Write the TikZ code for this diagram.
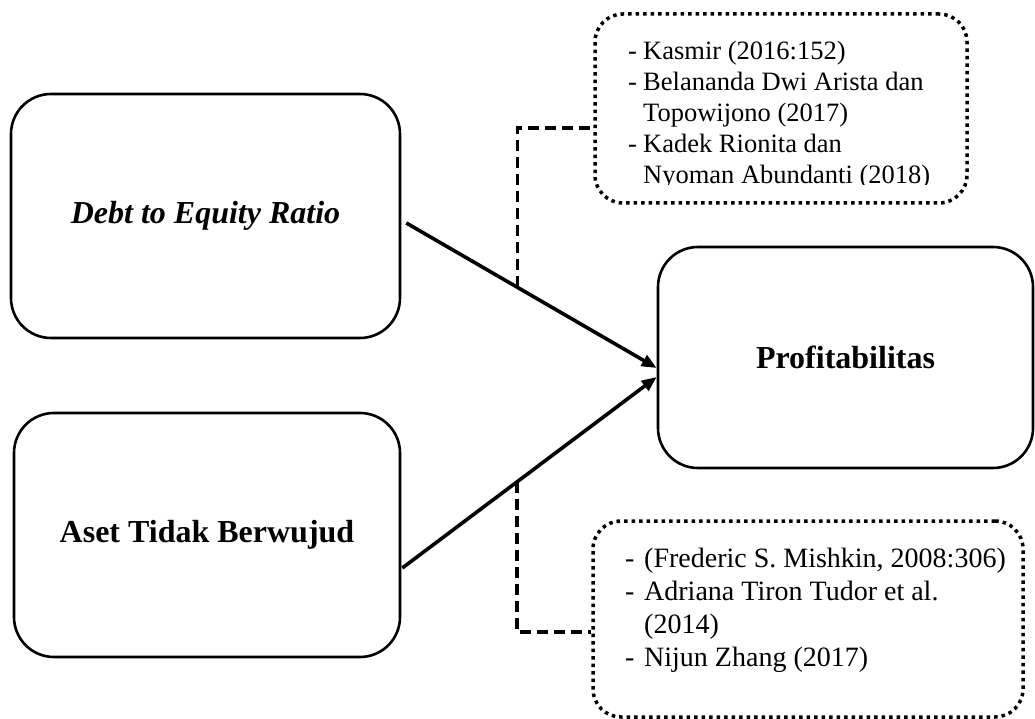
\documentclass[tikz,border=0pt]{standalone}
\usepackage{fontspec}
\setmainfont{Liberation Serif}
\usetikzlibrary{arrows.meta}
\begin{document}
\begin{tikzpicture}[x=1pt,y=1pt,
 varbox/.style={draw, line width=2.6pt, rounded corners=40pt, inner sep=0pt, font=\fontsize{32}{38}\selectfont\bfseries},
 refbox/.style={draw, line width=3.5pt, dash pattern=on 3.5pt off 4pt, rounded corners=28pt, inner sep=0pt},
 reftext/.style={inner sep=0pt, align=left, anchor=west},
 link/.style={line width=3.6pt, -{Triangle[length=15pt,width=12pt]}},
 tie/.style={line width=3.4pt, dash pattern=on 11pt off 6pt},
]
\useasboundingbox (0,0) rectangle (1035,718);

\node[varbox, minimum width=389pt, minimum height=244pt] (der) at (205.5,502) {\textit{Debt to Equity Ratio}};
\node[varbox, minimum width=386pt, minimum height=244pt] (aset) at (207,183) {Aset Tidak Berwujud};
\node[varbox, minimum width=375pt, minimum height=221pt] (prof) at (845.5,360.5) {Profitabilitas};

\node[refbox, minimum width=372pt, minimum height=189pt] (refa) at (781,609.5) {};
\node[refbox, minimum width=430pt, minimum height=196pt] (refb) at (808,99) {};

\begin{scope}
\clip (590,533) rectangle (980,718);
\node[reftext, font=\fontsize{26.5}{31}\selectfont] (ta) at (628,603)
 {\makebox[15pt][l]{-}Kasmir (2016:152)\\
  \makebox[15pt][l]{-}Belananda Dwi Arista dan\\
  \hspace*{15pt}Topowijono (2017)\\
  \makebox[15pt][l]{-}Kadek Rionita dan\\
  \hspace*{15pt}Nyoman Abundanti (2018)};
\end{scope}

\node[reftext, font=\fontsize{28}{33}\selectfont] (tb) at (625,108)
 {\makebox[19pt][l]{-}(Frederic S. Mishkin, 2008:306)\\
  \makebox[19pt][l]{-}Adriana Tiron Tudor et al.\\
  \hspace*{19pt}(2014)\\
  \makebox[19pt][l]{-}Nijun Zhang (2017)};

\draw[link] ([shift={(5,-7)}]der.east) -- coordinate[pos=0.443] (ja) ([yshift=-10.5]prof.west);
\draw[link] ([shift={(1,-33)}]aset.east) -- coordinate[pos=0.451] (jb) ([yshift=-19.5]prof.west);

\draw[tie] (ja) |- ([yshift=-19.5]refa.west);
\draw[tie] (jb) |- ([yshift=-13]refb.west);
\end{tikzpicture}
\end{document}
